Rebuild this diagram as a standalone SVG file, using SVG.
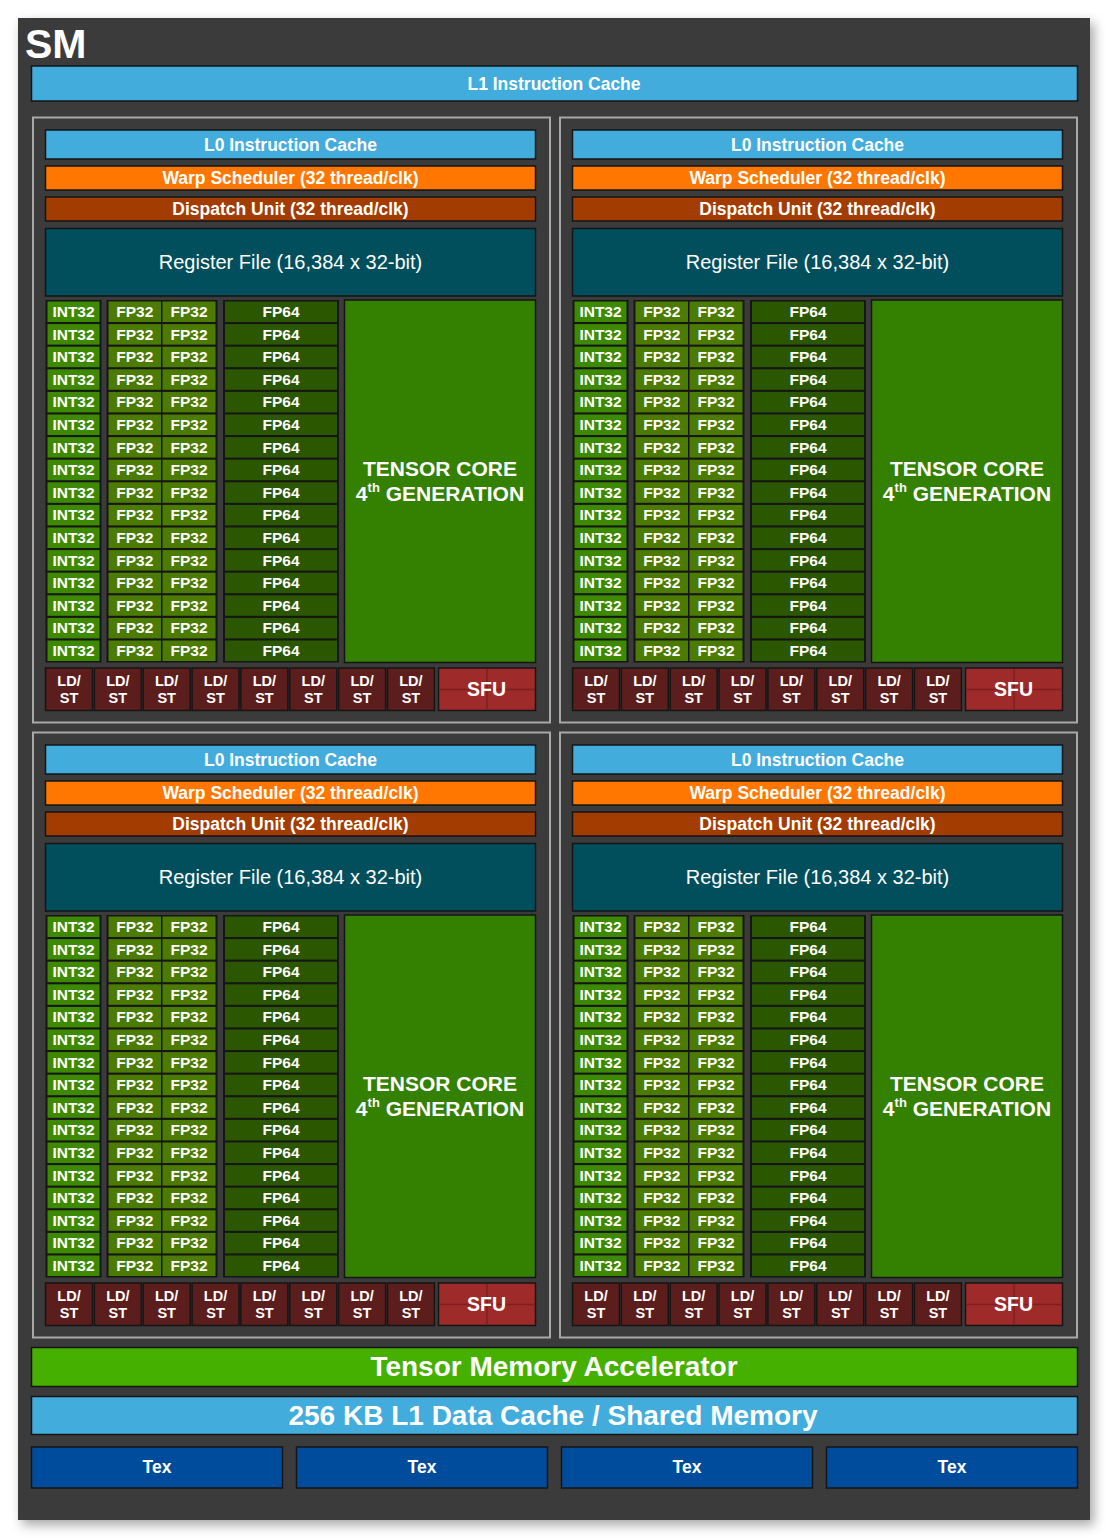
<svg xmlns="http://www.w3.org/2000/svg" width="1110" height="1538" viewBox="0 0 1110 1538">
<defs>
<filter id="sh" x="-5%" y="-5%" width="112%" height="112%"><feDropShadow dx="4" dy="5" stdDeviation="6" flood-color="#000" flood-opacity="0.35"/></filter>
<style>
.sm{fill:#3a3a3a}
.b{stroke:#151515;stroke-width:1.5}
.cy{fill:#42acdc}
.or{fill:#ff7700}
.du{fill:#a33c00}
.rf{fill:#014e5d}
.fr{fill:#161616}
.ci{fill:#3d8a00}
.cf{fill:#4b7b00}
.cd{fill:#2a5700}
.tc{fill:#348000}
.ls{fill:#5c1d1d}
.sfu{fill:#9f2a2a}
.sl{stroke:#7c1f1f;stroke-width:1.5;fill:none}
.tma{fill:#45b000}
.tex{fill:#004c9c}
.qf{fill:none;stroke:#a8a8a8;stroke-width:2}
text{font-family:"Liberation Sans",Arial,sans-serif;fill:#fff;text-anchor:middle}
.m{font-size:17.5px;font-weight:bold}
.r{font-size:20px}
.t{font-size:15.5px;font-weight:bold}
.l{font-size:14.5px;font-weight:bold}
.s{font-size:19.5px;font-weight:bold}
.tn{font-size:21px;font-weight:bold}
.sup{font-size:13px}
.big{font-size:28px;font-weight:bold}
.tt{font-size:41px;font-weight:bold;text-anchor:start}
</style>
</defs>
<rect width="1110" height="1538" fill="#ffffff"/>
<g id="sm">
<rect class="sm" x="18" y="18" width="1072" height="1502" filter="url(#sh)"/>
<text class="tt" x="25" y="57.5">SM</text>
</g>
<g id="l1i"><rect class="b cy" x="31.5" y="66" width="1046" height="35"/><text class="m" x="554" y="89.5">L1 Instruction Cache</text></g>
<g id="connectors"/>

<g id="q1" transform="translate(0,0)">
<rect class="qf" x="33" y="117.5" width="517" height="605"/>
<g id="q1-l0"><rect class="b cy" x="45.5" y="130" width="490" height="29"/><text class="m" x="290.5" y="150.5">L0 Instruction Cache</text></g>
<g id="q1-warp"><rect class="b or" x="45.5" y="166" width="490" height="24"/><text class="m" x="290.5" y="184.3">Warp Scheduler (32 thread/clk)</text></g>
<g id="q1-disp"><rect class="b du" x="45.5" y="197" width="490" height="24"/><text class="m" x="290.5" y="215.3">Dispatch Unit (32 thread/clk)</text></g>
<g id="q1-reg"><rect class="b rf" x="45.5" y="228.5" width="490" height="67.5"/><text class="r" x="290.5" y="268.5">Register File (16,384 x 32-bit)</text></g>
<rect class="fr" x="45.5" y="300" width="56" height="362.5"/>
<rect class="fr" x="106.5" y="300" width="111" height="362.5"/>
<rect class="fr" x="223" y="300" width="116" height="362.5"/>
<g id="q1-r1" transform="translate(0,301.5)"><g id="q1-r1-i"><rect class="ci" x="47.5" width="52" height="20.5"/><text class="t" x="73.5" y="15.5">INT32</text></g><g id="q1-r1-a"><rect class="cf" x="108.5" width="52.5" height="20.5"/><text class="t" x="134.75" y="15.5">FP32</text></g><g id="q1-r1-b"><rect class="cf" x="162.5" width="53" height="20.5"/><text class="t" x="189" y="15.5">FP32</text></g><g id="q1-r1-d"><rect class="cd" x="225" width="112" height="20.5"/><text class="t" x="281" y="15.5">FP64</text></g></g>
<g id="q1-r2" transform="translate(0,324.1)"><g id="q1-r2-i"><rect class="ci" x="47.5" width="52" height="20.5"/><text class="t" x="73.5" y="15.5">INT32</text></g><g id="q1-r2-a"><rect class="cf" x="108.5" width="52.5" height="20.5"/><text class="t" x="134.75" y="15.5">FP32</text></g><g id="q1-r2-b"><rect class="cf" x="162.5" width="53" height="20.5"/><text class="t" x="189" y="15.5">FP32</text></g><g id="q1-r2-d"><rect class="cd" x="225" width="112" height="20.5"/><text class="t" x="281" y="15.5">FP64</text></g></g>
<g id="q1-r3" transform="translate(0,346.7)"><g id="q1-r3-i"><rect class="ci" x="47.5" width="52" height="20.5"/><text class="t" x="73.5" y="15.5">INT32</text></g><g id="q1-r3-a"><rect class="cf" x="108.5" width="52.5" height="20.5"/><text class="t" x="134.75" y="15.5">FP32</text></g><g id="q1-r3-b"><rect class="cf" x="162.5" width="53" height="20.5"/><text class="t" x="189" y="15.5">FP32</text></g><g id="q1-r3-d"><rect class="cd" x="225" width="112" height="20.5"/><text class="t" x="281" y="15.5">FP64</text></g></g>
<g id="q1-r4" transform="translate(0,369.3)"><g id="q1-r4-i"><rect class="ci" x="47.5" width="52" height="20.5"/><text class="t" x="73.5" y="15.5">INT32</text></g><g id="q1-r4-a"><rect class="cf" x="108.5" width="52.5" height="20.5"/><text class="t" x="134.75" y="15.5">FP32</text></g><g id="q1-r4-b"><rect class="cf" x="162.5" width="53" height="20.5"/><text class="t" x="189" y="15.5">FP32</text></g><g id="q1-r4-d"><rect class="cd" x="225" width="112" height="20.5"/><text class="t" x="281" y="15.5">FP64</text></g></g>
<g id="q1-r5" transform="translate(0,391.9)"><g id="q1-r5-i"><rect class="ci" x="47.5" width="52" height="20.5"/><text class="t" x="73.5" y="15.5">INT32</text></g><g id="q1-r5-a"><rect class="cf" x="108.5" width="52.5" height="20.5"/><text class="t" x="134.75" y="15.5">FP32</text></g><g id="q1-r5-b"><rect class="cf" x="162.5" width="53" height="20.5"/><text class="t" x="189" y="15.5">FP32</text></g><g id="q1-r5-d"><rect class="cd" x="225" width="112" height="20.5"/><text class="t" x="281" y="15.5">FP64</text></g></g>
<g id="q1-r6" transform="translate(0,414.5)"><g id="q1-r6-i"><rect class="ci" x="47.5" width="52" height="20.5"/><text class="t" x="73.5" y="15.5">INT32</text></g><g id="q1-r6-a"><rect class="cf" x="108.5" width="52.5" height="20.5"/><text class="t" x="134.75" y="15.5">FP32</text></g><g id="q1-r6-b"><rect class="cf" x="162.5" width="53" height="20.5"/><text class="t" x="189" y="15.5">FP32</text></g><g id="q1-r6-d"><rect class="cd" x="225" width="112" height="20.5"/><text class="t" x="281" y="15.5">FP64</text></g></g>
<g id="q1-r7" transform="translate(0,437.1)"><g id="q1-r7-i"><rect class="ci" x="47.5" width="52" height="20.5"/><text class="t" x="73.5" y="15.5">INT32</text></g><g id="q1-r7-a"><rect class="cf" x="108.5" width="52.5" height="20.5"/><text class="t" x="134.75" y="15.5">FP32</text></g><g id="q1-r7-b"><rect class="cf" x="162.5" width="53" height="20.5"/><text class="t" x="189" y="15.5">FP32</text></g><g id="q1-r7-d"><rect class="cd" x="225" width="112" height="20.5"/><text class="t" x="281" y="15.5">FP64</text></g></g>
<g id="q1-r8" transform="translate(0,459.7)"><g id="q1-r8-i"><rect class="ci" x="47.5" width="52" height="20.5"/><text class="t" x="73.5" y="15.5">INT32</text></g><g id="q1-r8-a"><rect class="cf" x="108.5" width="52.5" height="20.5"/><text class="t" x="134.75" y="15.5">FP32</text></g><g id="q1-r8-b"><rect class="cf" x="162.5" width="53" height="20.5"/><text class="t" x="189" y="15.5">FP32</text></g><g id="q1-r8-d"><rect class="cd" x="225" width="112" height="20.5"/><text class="t" x="281" y="15.5">FP64</text></g></g>
<g id="q1-r9" transform="translate(0,482.3)"><g id="q1-r9-i"><rect class="ci" x="47.5" width="52" height="20.5"/><text class="t" x="73.5" y="15.5">INT32</text></g><g id="q1-r9-a"><rect class="cf" x="108.5" width="52.5" height="20.5"/><text class="t" x="134.75" y="15.5">FP32</text></g><g id="q1-r9-b"><rect class="cf" x="162.5" width="53" height="20.5"/><text class="t" x="189" y="15.5">FP32</text></g><g id="q1-r9-d"><rect class="cd" x="225" width="112" height="20.5"/><text class="t" x="281" y="15.5">FP64</text></g></g>
<g id="q1-r10" transform="translate(0,504.9)"><g id="q1-r10-i"><rect class="ci" x="47.5" width="52" height="20.5"/><text class="t" x="73.5" y="15.5">INT32</text></g><g id="q1-r10-a"><rect class="cf" x="108.5" width="52.5" height="20.5"/><text class="t" x="134.75" y="15.5">FP32</text></g><g id="q1-r10-b"><rect class="cf" x="162.5" width="53" height="20.5"/><text class="t" x="189" y="15.5">FP32</text></g><g id="q1-r10-d"><rect class="cd" x="225" width="112" height="20.5"/><text class="t" x="281" y="15.5">FP64</text></g></g>
<g id="q1-r11" transform="translate(0,527.5)"><g id="q1-r11-i"><rect class="ci" x="47.5" width="52" height="20.5"/><text class="t" x="73.5" y="15.5">INT32</text></g><g id="q1-r11-a"><rect class="cf" x="108.5" width="52.5" height="20.5"/><text class="t" x="134.75" y="15.5">FP32</text></g><g id="q1-r11-b"><rect class="cf" x="162.5" width="53" height="20.5"/><text class="t" x="189" y="15.5">FP32</text></g><g id="q1-r11-d"><rect class="cd" x="225" width="112" height="20.5"/><text class="t" x="281" y="15.5">FP64</text></g></g>
<g id="q1-r12" transform="translate(0,550.1)"><g id="q1-r12-i"><rect class="ci" x="47.5" width="52" height="20.5"/><text class="t" x="73.5" y="15.5">INT32</text></g><g id="q1-r12-a"><rect class="cf" x="108.5" width="52.5" height="20.5"/><text class="t" x="134.75" y="15.5">FP32</text></g><g id="q1-r12-b"><rect class="cf" x="162.5" width="53" height="20.5"/><text class="t" x="189" y="15.5">FP32</text></g><g id="q1-r12-d"><rect class="cd" x="225" width="112" height="20.5"/><text class="t" x="281" y="15.5">FP64</text></g></g>
<g id="q1-r13" transform="translate(0,572.7)"><g id="q1-r13-i"><rect class="ci" x="47.5" width="52" height="20.5"/><text class="t" x="73.5" y="15.5">INT32</text></g><g id="q1-r13-a"><rect class="cf" x="108.5" width="52.5" height="20.5"/><text class="t" x="134.75" y="15.5">FP32</text></g><g id="q1-r13-b"><rect class="cf" x="162.5" width="53" height="20.5"/><text class="t" x="189" y="15.5">FP32</text></g><g id="q1-r13-d"><rect class="cd" x="225" width="112" height="20.5"/><text class="t" x="281" y="15.5">FP64</text></g></g>
<g id="q1-r14" transform="translate(0,595.3)"><g id="q1-r14-i"><rect class="ci" x="47.5" width="52" height="20.5"/><text class="t" x="73.5" y="15.5">INT32</text></g><g id="q1-r14-a"><rect class="cf" x="108.5" width="52.5" height="20.5"/><text class="t" x="134.75" y="15.5">FP32</text></g><g id="q1-r14-b"><rect class="cf" x="162.5" width="53" height="20.5"/><text class="t" x="189" y="15.5">FP32</text></g><g id="q1-r14-d"><rect class="cd" x="225" width="112" height="20.5"/><text class="t" x="281" y="15.5">FP64</text></g></g>
<g id="q1-r15" transform="translate(0,617.9)"><g id="q1-r15-i"><rect class="ci" x="47.5" width="52" height="20.5"/><text class="t" x="73.5" y="15.5">INT32</text></g><g id="q1-r15-a"><rect class="cf" x="108.5" width="52.5" height="20.5"/><text class="t" x="134.75" y="15.5">FP32</text></g><g id="q1-r15-b"><rect class="cf" x="162.5" width="53" height="20.5"/><text class="t" x="189" y="15.5">FP32</text></g><g id="q1-r15-d"><rect class="cd" x="225" width="112" height="20.5"/><text class="t" x="281" y="15.5">FP64</text></g></g>
<g id="q1-r16" transform="translate(0,640.5)"><g id="q1-r16-i"><rect class="ci" x="47.5" width="52" height="20.5"/><text class="t" x="73.5" y="15.5">INT32</text></g><g id="q1-r16-a"><rect class="cf" x="108.5" width="52.5" height="20.5"/><text class="t" x="134.75" y="15.5">FP32</text></g><g id="q1-r16-b"><rect class="cf" x="162.5" width="53" height="20.5"/><text class="t" x="189" y="15.5">FP32</text></g><g id="q1-r16-d"><rect class="cd" x="225" width="112" height="20.5"/><text class="t" x="281" y="15.5">FP64</text></g></g>
<g id="q1-tensor"><rect class="b tc" x="344.5" y="300" width="191" height="362.5"/><text class="tn" x="440" y="476">TENSOR CORE</text><text class="tn" x="440" y="501">4<tspan class="sup" dy="-9">th</tspan><tspan dy="9"> GENERATION</tspan></text></g>
<g id="q1-ls1"><rect class="b ls" x="45.5" y="668" width="47" height="42.5"/><text class="l" x="69" y="686">LD/</text><text class="l" x="69" y="703">ST</text></g>
<g id="q1-ls2"><rect class="b ls" x="94.35" y="668" width="47" height="42.5"/><text class="l" x="117.85" y="686">LD/</text><text class="l" x="117.85" y="703">ST</text></g>
<g id="q1-ls3"><rect class="b ls" x="143.2" y="668" width="47" height="42.5"/><text class="l" x="166.7" y="686">LD/</text><text class="l" x="166.7" y="703">ST</text></g>
<g id="q1-ls4"><rect class="b ls" x="192.05" y="668" width="47" height="42.5"/><text class="l" x="215.55" y="686">LD/</text><text class="l" x="215.55" y="703">ST</text></g>
<g id="q1-ls5"><rect class="b ls" x="240.9" y="668" width="47" height="42.5"/><text class="l" x="264.4" y="686">LD/</text><text class="l" x="264.4" y="703">ST</text></g>
<g id="q1-ls6"><rect class="b ls" x="289.75" y="668" width="47" height="42.5"/><text class="l" x="313.25" y="686">LD/</text><text class="l" x="313.25" y="703">ST</text></g>
<g id="q1-ls7"><rect class="b ls" x="338.6" y="668" width="47" height="42.5"/><text class="l" x="362.1" y="686">LD/</text><text class="l" x="362.1" y="703">ST</text></g>
<g id="q1-ls8"><rect class="b ls" x="387.45" y="668" width="47" height="42.5"/><text class="l" x="410.95" y="686">LD/</text><text class="l" x="410.95" y="703">ST</text></g>
<g id="q1-sfu"><rect class="b sfu" x="438.5" y="668" width="97" height="42.5"/><path class="sl" d="M487 669V710M439 689.5H535"/><text class="s" x="486.5" y="696">SFU</text></g>
</g>

<g id="q2" transform="translate(527,0)">
<rect class="qf" x="33" y="117.5" width="517" height="605"/>
<g id="q2-l0"><rect class="b cy" x="45.5" y="130" width="490" height="29"/><text class="m" x="290.5" y="150.5">L0 Instruction Cache</text></g>
<g id="q2-warp"><rect class="b or" x="45.5" y="166" width="490" height="24"/><text class="m" x="290.5" y="184.3">Warp Scheduler (32 thread/clk)</text></g>
<g id="q2-disp"><rect class="b du" x="45.5" y="197" width="490" height="24"/><text class="m" x="290.5" y="215.3">Dispatch Unit (32 thread/clk)</text></g>
<g id="q2-reg"><rect class="b rf" x="45.5" y="228.5" width="490" height="67.5"/><text class="r" x="290.5" y="268.5">Register File (16,384 x 32-bit)</text></g>
<rect class="fr" x="45.5" y="300" width="56" height="362.5"/>
<rect class="fr" x="106.5" y="300" width="111" height="362.5"/>
<rect class="fr" x="223" y="300" width="116" height="362.5"/>
<g id="q2-r1" transform="translate(0,301.5)"><g id="q2-r1-i"><rect class="ci" x="47.5" width="52" height="20.5"/><text class="t" x="73.5" y="15.5">INT32</text></g><g id="q2-r1-a"><rect class="cf" x="108.5" width="52.5" height="20.5"/><text class="t" x="134.75" y="15.5">FP32</text></g><g id="q2-r1-b"><rect class="cf" x="162.5" width="53" height="20.5"/><text class="t" x="189" y="15.5">FP32</text></g><g id="q2-r1-d"><rect class="cd" x="225" width="112" height="20.5"/><text class="t" x="281" y="15.5">FP64</text></g></g>
<g id="q2-r2" transform="translate(0,324.1)"><g id="q2-r2-i"><rect class="ci" x="47.5" width="52" height="20.5"/><text class="t" x="73.5" y="15.5">INT32</text></g><g id="q2-r2-a"><rect class="cf" x="108.5" width="52.5" height="20.5"/><text class="t" x="134.75" y="15.5">FP32</text></g><g id="q2-r2-b"><rect class="cf" x="162.5" width="53" height="20.5"/><text class="t" x="189" y="15.5">FP32</text></g><g id="q2-r2-d"><rect class="cd" x="225" width="112" height="20.5"/><text class="t" x="281" y="15.5">FP64</text></g></g>
<g id="q2-r3" transform="translate(0,346.7)"><g id="q2-r3-i"><rect class="ci" x="47.5" width="52" height="20.5"/><text class="t" x="73.5" y="15.5">INT32</text></g><g id="q2-r3-a"><rect class="cf" x="108.5" width="52.5" height="20.5"/><text class="t" x="134.75" y="15.5">FP32</text></g><g id="q2-r3-b"><rect class="cf" x="162.5" width="53" height="20.5"/><text class="t" x="189" y="15.5">FP32</text></g><g id="q2-r3-d"><rect class="cd" x="225" width="112" height="20.5"/><text class="t" x="281" y="15.5">FP64</text></g></g>
<g id="q2-r4" transform="translate(0,369.3)"><g id="q2-r4-i"><rect class="ci" x="47.5" width="52" height="20.5"/><text class="t" x="73.5" y="15.5">INT32</text></g><g id="q2-r4-a"><rect class="cf" x="108.5" width="52.5" height="20.5"/><text class="t" x="134.75" y="15.5">FP32</text></g><g id="q2-r4-b"><rect class="cf" x="162.5" width="53" height="20.5"/><text class="t" x="189" y="15.5">FP32</text></g><g id="q2-r4-d"><rect class="cd" x="225" width="112" height="20.5"/><text class="t" x="281" y="15.5">FP64</text></g></g>
<g id="q2-r5" transform="translate(0,391.9)"><g id="q2-r5-i"><rect class="ci" x="47.5" width="52" height="20.5"/><text class="t" x="73.5" y="15.5">INT32</text></g><g id="q2-r5-a"><rect class="cf" x="108.5" width="52.5" height="20.5"/><text class="t" x="134.75" y="15.5">FP32</text></g><g id="q2-r5-b"><rect class="cf" x="162.5" width="53" height="20.5"/><text class="t" x="189" y="15.5">FP32</text></g><g id="q2-r5-d"><rect class="cd" x="225" width="112" height="20.5"/><text class="t" x="281" y="15.5">FP64</text></g></g>
<g id="q2-r6" transform="translate(0,414.5)"><g id="q2-r6-i"><rect class="ci" x="47.5" width="52" height="20.5"/><text class="t" x="73.5" y="15.5">INT32</text></g><g id="q2-r6-a"><rect class="cf" x="108.5" width="52.5" height="20.5"/><text class="t" x="134.75" y="15.5">FP32</text></g><g id="q2-r6-b"><rect class="cf" x="162.5" width="53" height="20.5"/><text class="t" x="189" y="15.5">FP32</text></g><g id="q2-r6-d"><rect class="cd" x="225" width="112" height="20.5"/><text class="t" x="281" y="15.5">FP64</text></g></g>
<g id="q2-r7" transform="translate(0,437.1)"><g id="q2-r7-i"><rect class="ci" x="47.5" width="52" height="20.5"/><text class="t" x="73.5" y="15.5">INT32</text></g><g id="q2-r7-a"><rect class="cf" x="108.5" width="52.5" height="20.5"/><text class="t" x="134.75" y="15.5">FP32</text></g><g id="q2-r7-b"><rect class="cf" x="162.5" width="53" height="20.5"/><text class="t" x="189" y="15.5">FP32</text></g><g id="q2-r7-d"><rect class="cd" x="225" width="112" height="20.5"/><text class="t" x="281" y="15.5">FP64</text></g></g>
<g id="q2-r8" transform="translate(0,459.7)"><g id="q2-r8-i"><rect class="ci" x="47.5" width="52" height="20.5"/><text class="t" x="73.5" y="15.5">INT32</text></g><g id="q2-r8-a"><rect class="cf" x="108.5" width="52.5" height="20.5"/><text class="t" x="134.75" y="15.5">FP32</text></g><g id="q2-r8-b"><rect class="cf" x="162.5" width="53" height="20.5"/><text class="t" x="189" y="15.5">FP32</text></g><g id="q2-r8-d"><rect class="cd" x="225" width="112" height="20.5"/><text class="t" x="281" y="15.5">FP64</text></g></g>
<g id="q2-r9" transform="translate(0,482.3)"><g id="q2-r9-i"><rect class="ci" x="47.5" width="52" height="20.5"/><text class="t" x="73.5" y="15.5">INT32</text></g><g id="q2-r9-a"><rect class="cf" x="108.5" width="52.5" height="20.5"/><text class="t" x="134.75" y="15.5">FP32</text></g><g id="q2-r9-b"><rect class="cf" x="162.5" width="53" height="20.5"/><text class="t" x="189" y="15.5">FP32</text></g><g id="q2-r9-d"><rect class="cd" x="225" width="112" height="20.5"/><text class="t" x="281" y="15.5">FP64</text></g></g>
<g id="q2-r10" transform="translate(0,504.9)"><g id="q2-r10-i"><rect class="ci" x="47.5" width="52" height="20.5"/><text class="t" x="73.5" y="15.5">INT32</text></g><g id="q2-r10-a"><rect class="cf" x="108.5" width="52.5" height="20.5"/><text class="t" x="134.75" y="15.5">FP32</text></g><g id="q2-r10-b"><rect class="cf" x="162.5" width="53" height="20.5"/><text class="t" x="189" y="15.5">FP32</text></g><g id="q2-r10-d"><rect class="cd" x="225" width="112" height="20.5"/><text class="t" x="281" y="15.5">FP64</text></g></g>
<g id="q2-r11" transform="translate(0,527.5)"><g id="q2-r11-i"><rect class="ci" x="47.5" width="52" height="20.5"/><text class="t" x="73.5" y="15.5">INT32</text></g><g id="q2-r11-a"><rect class="cf" x="108.5" width="52.5" height="20.5"/><text class="t" x="134.75" y="15.5">FP32</text></g><g id="q2-r11-b"><rect class="cf" x="162.5" width="53" height="20.5"/><text class="t" x="189" y="15.5">FP32</text></g><g id="q2-r11-d"><rect class="cd" x="225" width="112" height="20.5"/><text class="t" x="281" y="15.5">FP64</text></g></g>
<g id="q2-r12" transform="translate(0,550.1)"><g id="q2-r12-i"><rect class="ci" x="47.5" width="52" height="20.5"/><text class="t" x="73.5" y="15.5">INT32</text></g><g id="q2-r12-a"><rect class="cf" x="108.5" width="52.5" height="20.5"/><text class="t" x="134.75" y="15.5">FP32</text></g><g id="q2-r12-b"><rect class="cf" x="162.5" width="53" height="20.5"/><text class="t" x="189" y="15.5">FP32</text></g><g id="q2-r12-d"><rect class="cd" x="225" width="112" height="20.5"/><text class="t" x="281" y="15.5">FP64</text></g></g>
<g id="q2-r13" transform="translate(0,572.7)"><g id="q2-r13-i"><rect class="ci" x="47.5" width="52" height="20.5"/><text class="t" x="73.5" y="15.5">INT32</text></g><g id="q2-r13-a"><rect class="cf" x="108.5" width="52.5" height="20.5"/><text class="t" x="134.75" y="15.5">FP32</text></g><g id="q2-r13-b"><rect class="cf" x="162.5" width="53" height="20.5"/><text class="t" x="189" y="15.5">FP32</text></g><g id="q2-r13-d"><rect class="cd" x="225" width="112" height="20.5"/><text class="t" x="281" y="15.5">FP64</text></g></g>
<g id="q2-r14" transform="translate(0,595.3)"><g id="q2-r14-i"><rect class="ci" x="47.5" width="52" height="20.5"/><text class="t" x="73.5" y="15.5">INT32</text></g><g id="q2-r14-a"><rect class="cf" x="108.5" width="52.5" height="20.5"/><text class="t" x="134.75" y="15.5">FP32</text></g><g id="q2-r14-b"><rect class="cf" x="162.5" width="53" height="20.5"/><text class="t" x="189" y="15.5">FP32</text></g><g id="q2-r14-d"><rect class="cd" x="225" width="112" height="20.5"/><text class="t" x="281" y="15.5">FP64</text></g></g>
<g id="q2-r15" transform="translate(0,617.9)"><g id="q2-r15-i"><rect class="ci" x="47.5" width="52" height="20.5"/><text class="t" x="73.5" y="15.5">INT32</text></g><g id="q2-r15-a"><rect class="cf" x="108.5" width="52.5" height="20.5"/><text class="t" x="134.75" y="15.5">FP32</text></g><g id="q2-r15-b"><rect class="cf" x="162.5" width="53" height="20.5"/><text class="t" x="189" y="15.5">FP32</text></g><g id="q2-r15-d"><rect class="cd" x="225" width="112" height="20.5"/><text class="t" x="281" y="15.5">FP64</text></g></g>
<g id="q2-r16" transform="translate(0,640.5)"><g id="q2-r16-i"><rect class="ci" x="47.5" width="52" height="20.5"/><text class="t" x="73.5" y="15.5">INT32</text></g><g id="q2-r16-a"><rect class="cf" x="108.5" width="52.5" height="20.5"/><text class="t" x="134.75" y="15.5">FP32</text></g><g id="q2-r16-b"><rect class="cf" x="162.5" width="53" height="20.5"/><text class="t" x="189" y="15.5">FP32</text></g><g id="q2-r16-d"><rect class="cd" x="225" width="112" height="20.5"/><text class="t" x="281" y="15.5">FP64</text></g></g>
<g id="q2-tensor"><rect class="b tc" x="344.5" y="300" width="191" height="362.5"/><text class="tn" x="440" y="476">TENSOR CORE</text><text class="tn" x="440" y="501">4<tspan class="sup" dy="-9">th</tspan><tspan dy="9"> GENERATION</tspan></text></g>
<g id="q2-ls1"><rect class="b ls" x="45.5" y="668" width="47" height="42.5"/><text class="l" x="69" y="686">LD/</text><text class="l" x="69" y="703">ST</text></g>
<g id="q2-ls2"><rect class="b ls" x="94.35" y="668" width="47" height="42.5"/><text class="l" x="117.85" y="686">LD/</text><text class="l" x="117.85" y="703">ST</text></g>
<g id="q2-ls3"><rect class="b ls" x="143.2" y="668" width="47" height="42.5"/><text class="l" x="166.7" y="686">LD/</text><text class="l" x="166.7" y="703">ST</text></g>
<g id="q2-ls4"><rect class="b ls" x="192.05" y="668" width="47" height="42.5"/><text class="l" x="215.55" y="686">LD/</text><text class="l" x="215.55" y="703">ST</text></g>
<g id="q2-ls5"><rect class="b ls" x="240.9" y="668" width="47" height="42.5"/><text class="l" x="264.4" y="686">LD/</text><text class="l" x="264.4" y="703">ST</text></g>
<g id="q2-ls6"><rect class="b ls" x="289.75" y="668" width="47" height="42.5"/><text class="l" x="313.25" y="686">LD/</text><text class="l" x="313.25" y="703">ST</text></g>
<g id="q2-ls7"><rect class="b ls" x="338.6" y="668" width="47" height="42.5"/><text class="l" x="362.1" y="686">LD/</text><text class="l" x="362.1" y="703">ST</text></g>
<g id="q2-ls8"><rect class="b ls" x="387.45" y="668" width="47" height="42.5"/><text class="l" x="410.95" y="686">LD/</text><text class="l" x="410.95" y="703">ST</text></g>
<g id="q2-sfu"><rect class="b sfu" x="438.5" y="668" width="97" height="42.5"/><path class="sl" d="M487 669V710M439 689.5H535"/><text class="s" x="486.5" y="696">SFU</text></g>
</g>

<g id="q3" transform="translate(0,615)">
<rect class="qf" x="33" y="117.5" width="517" height="605"/>
<g id="q3-l0"><rect class="b cy" x="45.5" y="130" width="490" height="29"/><text class="m" x="290.5" y="150.5">L0 Instruction Cache</text></g>
<g id="q3-warp"><rect class="b or" x="45.5" y="166" width="490" height="24"/><text class="m" x="290.5" y="184.3">Warp Scheduler (32 thread/clk)</text></g>
<g id="q3-disp"><rect class="b du" x="45.5" y="197" width="490" height="24"/><text class="m" x="290.5" y="215.3">Dispatch Unit (32 thread/clk)</text></g>
<g id="q3-reg"><rect class="b rf" x="45.5" y="228.5" width="490" height="67.5"/><text class="r" x="290.5" y="268.5">Register File (16,384 x 32-bit)</text></g>
<rect class="fr" x="45.5" y="300" width="56" height="362.5"/>
<rect class="fr" x="106.5" y="300" width="111" height="362.5"/>
<rect class="fr" x="223" y="300" width="116" height="362.5"/>
<g id="q3-r1" transform="translate(0,301.5)"><g id="q3-r1-i"><rect class="ci" x="47.5" width="52" height="20.5"/><text class="t" x="73.5" y="15.5">INT32</text></g><g id="q3-r1-a"><rect class="cf" x="108.5" width="52.5" height="20.5"/><text class="t" x="134.75" y="15.5">FP32</text></g><g id="q3-r1-b"><rect class="cf" x="162.5" width="53" height="20.5"/><text class="t" x="189" y="15.5">FP32</text></g><g id="q3-r1-d"><rect class="cd" x="225" width="112" height="20.5"/><text class="t" x="281" y="15.5">FP64</text></g></g>
<g id="q3-r2" transform="translate(0,324.1)"><g id="q3-r2-i"><rect class="ci" x="47.5" width="52" height="20.5"/><text class="t" x="73.5" y="15.5">INT32</text></g><g id="q3-r2-a"><rect class="cf" x="108.5" width="52.5" height="20.5"/><text class="t" x="134.75" y="15.5">FP32</text></g><g id="q3-r2-b"><rect class="cf" x="162.5" width="53" height="20.5"/><text class="t" x="189" y="15.5">FP32</text></g><g id="q3-r2-d"><rect class="cd" x="225" width="112" height="20.5"/><text class="t" x="281" y="15.5">FP64</text></g></g>
<g id="q3-r3" transform="translate(0,346.7)"><g id="q3-r3-i"><rect class="ci" x="47.5" width="52" height="20.5"/><text class="t" x="73.5" y="15.5">INT32</text></g><g id="q3-r3-a"><rect class="cf" x="108.5" width="52.5" height="20.5"/><text class="t" x="134.75" y="15.5">FP32</text></g><g id="q3-r3-b"><rect class="cf" x="162.5" width="53" height="20.5"/><text class="t" x="189" y="15.5">FP32</text></g><g id="q3-r3-d"><rect class="cd" x="225" width="112" height="20.5"/><text class="t" x="281" y="15.5">FP64</text></g></g>
<g id="q3-r4" transform="translate(0,369.3)"><g id="q3-r4-i"><rect class="ci" x="47.5" width="52" height="20.5"/><text class="t" x="73.5" y="15.5">INT32</text></g><g id="q3-r4-a"><rect class="cf" x="108.5" width="52.5" height="20.5"/><text class="t" x="134.75" y="15.5">FP32</text></g><g id="q3-r4-b"><rect class="cf" x="162.5" width="53" height="20.5"/><text class="t" x="189" y="15.5">FP32</text></g><g id="q3-r4-d"><rect class="cd" x="225" width="112" height="20.5"/><text class="t" x="281" y="15.5">FP64</text></g></g>
<g id="q3-r5" transform="translate(0,391.9)"><g id="q3-r5-i"><rect class="ci" x="47.5" width="52" height="20.5"/><text class="t" x="73.5" y="15.5">INT32</text></g><g id="q3-r5-a"><rect class="cf" x="108.5" width="52.5" height="20.5"/><text class="t" x="134.75" y="15.5">FP32</text></g><g id="q3-r5-b"><rect class="cf" x="162.5" width="53" height="20.5"/><text class="t" x="189" y="15.5">FP32</text></g><g id="q3-r5-d"><rect class="cd" x="225" width="112" height="20.5"/><text class="t" x="281" y="15.5">FP64</text></g></g>
<g id="q3-r6" transform="translate(0,414.5)"><g id="q3-r6-i"><rect class="ci" x="47.5" width="52" height="20.5"/><text class="t" x="73.5" y="15.5">INT32</text></g><g id="q3-r6-a"><rect class="cf" x="108.5" width="52.5" height="20.5"/><text class="t" x="134.75" y="15.5">FP32</text></g><g id="q3-r6-b"><rect class="cf" x="162.5" width="53" height="20.5"/><text class="t" x="189" y="15.5">FP32</text></g><g id="q3-r6-d"><rect class="cd" x="225" width="112" height="20.5"/><text class="t" x="281" y="15.5">FP64</text></g></g>
<g id="q3-r7" transform="translate(0,437.1)"><g id="q3-r7-i"><rect class="ci" x="47.5" width="52" height="20.5"/><text class="t" x="73.5" y="15.5">INT32</text></g><g id="q3-r7-a"><rect class="cf" x="108.5" width="52.5" height="20.5"/><text class="t" x="134.75" y="15.5">FP32</text></g><g id="q3-r7-b"><rect class="cf" x="162.5" width="53" height="20.5"/><text class="t" x="189" y="15.5">FP32</text></g><g id="q3-r7-d"><rect class="cd" x="225" width="112" height="20.5"/><text class="t" x="281" y="15.5">FP64</text></g></g>
<g id="q3-r8" transform="translate(0,459.7)"><g id="q3-r8-i"><rect class="ci" x="47.5" width="52" height="20.5"/><text class="t" x="73.5" y="15.5">INT32</text></g><g id="q3-r8-a"><rect class="cf" x="108.5" width="52.5" height="20.5"/><text class="t" x="134.75" y="15.5">FP32</text></g><g id="q3-r8-b"><rect class="cf" x="162.5" width="53" height="20.5"/><text class="t" x="189" y="15.5">FP32</text></g><g id="q3-r8-d"><rect class="cd" x="225" width="112" height="20.5"/><text class="t" x="281" y="15.5">FP64</text></g></g>
<g id="q3-r9" transform="translate(0,482.3)"><g id="q3-r9-i"><rect class="ci" x="47.5" width="52" height="20.5"/><text class="t" x="73.5" y="15.5">INT32</text></g><g id="q3-r9-a"><rect class="cf" x="108.5" width="52.5" height="20.5"/><text class="t" x="134.75" y="15.5">FP32</text></g><g id="q3-r9-b"><rect class="cf" x="162.5" width="53" height="20.5"/><text class="t" x="189" y="15.5">FP32</text></g><g id="q3-r9-d"><rect class="cd" x="225" width="112" height="20.5"/><text class="t" x="281" y="15.5">FP64</text></g></g>
<g id="q3-r10" transform="translate(0,504.9)"><g id="q3-r10-i"><rect class="ci" x="47.5" width="52" height="20.5"/><text class="t" x="73.5" y="15.5">INT32</text></g><g id="q3-r10-a"><rect class="cf" x="108.5" width="52.5" height="20.5"/><text class="t" x="134.75" y="15.5">FP32</text></g><g id="q3-r10-b"><rect class="cf" x="162.5" width="53" height="20.5"/><text class="t" x="189" y="15.5">FP32</text></g><g id="q3-r10-d"><rect class="cd" x="225" width="112" height="20.5"/><text class="t" x="281" y="15.5">FP64</text></g></g>
<g id="q3-r11" transform="translate(0,527.5)"><g id="q3-r11-i"><rect class="ci" x="47.5" width="52" height="20.5"/><text class="t" x="73.5" y="15.5">INT32</text></g><g id="q3-r11-a"><rect class="cf" x="108.5" width="52.5" height="20.5"/><text class="t" x="134.75" y="15.5">FP32</text></g><g id="q3-r11-b"><rect class="cf" x="162.5" width="53" height="20.5"/><text class="t" x="189" y="15.5">FP32</text></g><g id="q3-r11-d"><rect class="cd" x="225" width="112" height="20.5"/><text class="t" x="281" y="15.5">FP64</text></g></g>
<g id="q3-r12" transform="translate(0,550.1)"><g id="q3-r12-i"><rect class="ci" x="47.5" width="52" height="20.5"/><text class="t" x="73.5" y="15.5">INT32</text></g><g id="q3-r12-a"><rect class="cf" x="108.5" width="52.5" height="20.5"/><text class="t" x="134.75" y="15.5">FP32</text></g><g id="q3-r12-b"><rect class="cf" x="162.5" width="53" height="20.5"/><text class="t" x="189" y="15.5">FP32</text></g><g id="q3-r12-d"><rect class="cd" x="225" width="112" height="20.5"/><text class="t" x="281" y="15.5">FP64</text></g></g>
<g id="q3-r13" transform="translate(0,572.7)"><g id="q3-r13-i"><rect class="ci" x="47.5" width="52" height="20.5"/><text class="t" x="73.5" y="15.5">INT32</text></g><g id="q3-r13-a"><rect class="cf" x="108.5" width="52.5" height="20.5"/><text class="t" x="134.75" y="15.5">FP32</text></g><g id="q3-r13-b"><rect class="cf" x="162.5" width="53" height="20.5"/><text class="t" x="189" y="15.5">FP32</text></g><g id="q3-r13-d"><rect class="cd" x="225" width="112" height="20.5"/><text class="t" x="281" y="15.5">FP64</text></g></g>
<g id="q3-r14" transform="translate(0,595.3)"><g id="q3-r14-i"><rect class="ci" x="47.5" width="52" height="20.5"/><text class="t" x="73.5" y="15.5">INT32</text></g><g id="q3-r14-a"><rect class="cf" x="108.5" width="52.5" height="20.5"/><text class="t" x="134.75" y="15.5">FP32</text></g><g id="q3-r14-b"><rect class="cf" x="162.5" width="53" height="20.5"/><text class="t" x="189" y="15.5">FP32</text></g><g id="q3-r14-d"><rect class="cd" x="225" width="112" height="20.5"/><text class="t" x="281" y="15.5">FP64</text></g></g>
<g id="q3-r15" transform="translate(0,617.9)"><g id="q3-r15-i"><rect class="ci" x="47.5" width="52" height="20.5"/><text class="t" x="73.5" y="15.5">INT32</text></g><g id="q3-r15-a"><rect class="cf" x="108.5" width="52.5" height="20.5"/><text class="t" x="134.75" y="15.5">FP32</text></g><g id="q3-r15-b"><rect class="cf" x="162.5" width="53" height="20.5"/><text class="t" x="189" y="15.5">FP32</text></g><g id="q3-r15-d"><rect class="cd" x="225" width="112" height="20.5"/><text class="t" x="281" y="15.5">FP64</text></g></g>
<g id="q3-r16" transform="translate(0,640.5)"><g id="q3-r16-i"><rect class="ci" x="47.5" width="52" height="20.5"/><text class="t" x="73.5" y="15.5">INT32</text></g><g id="q3-r16-a"><rect class="cf" x="108.5" width="52.5" height="20.5"/><text class="t" x="134.75" y="15.5">FP32</text></g><g id="q3-r16-b"><rect class="cf" x="162.5" width="53" height="20.5"/><text class="t" x="189" y="15.5">FP32</text></g><g id="q3-r16-d"><rect class="cd" x="225" width="112" height="20.5"/><text class="t" x="281" y="15.5">FP64</text></g></g>
<g id="q3-tensor"><rect class="b tc" x="344.5" y="300" width="191" height="362.5"/><text class="tn" x="440" y="476">TENSOR CORE</text><text class="tn" x="440" y="501">4<tspan class="sup" dy="-9">th</tspan><tspan dy="9"> GENERATION</tspan></text></g>
<g id="q3-ls1"><rect class="b ls" x="45.5" y="668" width="47" height="42.5"/><text class="l" x="69" y="686">LD/</text><text class="l" x="69" y="703">ST</text></g>
<g id="q3-ls2"><rect class="b ls" x="94.35" y="668" width="47" height="42.5"/><text class="l" x="117.85" y="686">LD/</text><text class="l" x="117.85" y="703">ST</text></g>
<g id="q3-ls3"><rect class="b ls" x="143.2" y="668" width="47" height="42.5"/><text class="l" x="166.7" y="686">LD/</text><text class="l" x="166.7" y="703">ST</text></g>
<g id="q3-ls4"><rect class="b ls" x="192.05" y="668" width="47" height="42.5"/><text class="l" x="215.55" y="686">LD/</text><text class="l" x="215.55" y="703">ST</text></g>
<g id="q3-ls5"><rect class="b ls" x="240.9" y="668" width="47" height="42.5"/><text class="l" x="264.4" y="686">LD/</text><text class="l" x="264.4" y="703">ST</text></g>
<g id="q3-ls6"><rect class="b ls" x="289.75" y="668" width="47" height="42.5"/><text class="l" x="313.25" y="686">LD/</text><text class="l" x="313.25" y="703">ST</text></g>
<g id="q3-ls7"><rect class="b ls" x="338.6" y="668" width="47" height="42.5"/><text class="l" x="362.1" y="686">LD/</text><text class="l" x="362.1" y="703">ST</text></g>
<g id="q3-ls8"><rect class="b ls" x="387.45" y="668" width="47" height="42.5"/><text class="l" x="410.95" y="686">LD/</text><text class="l" x="410.95" y="703">ST</text></g>
<g id="q3-sfu"><rect class="b sfu" x="438.5" y="668" width="97" height="42.5"/><path class="sl" d="M487 669V710M439 689.5H535"/><text class="s" x="486.5" y="696">SFU</text></g>
</g>

<g id="q4" transform="translate(527,615)">
<rect class="qf" x="33" y="117.5" width="517" height="605"/>
<g id="q4-l0"><rect class="b cy" x="45.5" y="130" width="490" height="29"/><text class="m" x="290.5" y="150.5">L0 Instruction Cache</text></g>
<g id="q4-warp"><rect class="b or" x="45.5" y="166" width="490" height="24"/><text class="m" x="290.5" y="184.3">Warp Scheduler (32 thread/clk)</text></g>
<g id="q4-disp"><rect class="b du" x="45.5" y="197" width="490" height="24"/><text class="m" x="290.5" y="215.3">Dispatch Unit (32 thread/clk)</text></g>
<g id="q4-reg"><rect class="b rf" x="45.5" y="228.5" width="490" height="67.5"/><text class="r" x="290.5" y="268.5">Register File (16,384 x 32-bit)</text></g>
<rect class="fr" x="45.5" y="300" width="56" height="362.5"/>
<rect class="fr" x="106.5" y="300" width="111" height="362.5"/>
<rect class="fr" x="223" y="300" width="116" height="362.5"/>
<g id="q4-r1" transform="translate(0,301.5)"><g id="q4-r1-i"><rect class="ci" x="47.5" width="52" height="20.5"/><text class="t" x="73.5" y="15.5">INT32</text></g><g id="q4-r1-a"><rect class="cf" x="108.5" width="52.5" height="20.5"/><text class="t" x="134.75" y="15.5">FP32</text></g><g id="q4-r1-b"><rect class="cf" x="162.5" width="53" height="20.5"/><text class="t" x="189" y="15.5">FP32</text></g><g id="q4-r1-d"><rect class="cd" x="225" width="112" height="20.5"/><text class="t" x="281" y="15.5">FP64</text></g></g>
<g id="q4-r2" transform="translate(0,324.1)"><g id="q4-r2-i"><rect class="ci" x="47.5" width="52" height="20.5"/><text class="t" x="73.5" y="15.5">INT32</text></g><g id="q4-r2-a"><rect class="cf" x="108.5" width="52.5" height="20.5"/><text class="t" x="134.75" y="15.5">FP32</text></g><g id="q4-r2-b"><rect class="cf" x="162.5" width="53" height="20.5"/><text class="t" x="189" y="15.5">FP32</text></g><g id="q4-r2-d"><rect class="cd" x="225" width="112" height="20.5"/><text class="t" x="281" y="15.5">FP64</text></g></g>
<g id="q4-r3" transform="translate(0,346.7)"><g id="q4-r3-i"><rect class="ci" x="47.5" width="52" height="20.5"/><text class="t" x="73.5" y="15.5">INT32</text></g><g id="q4-r3-a"><rect class="cf" x="108.5" width="52.5" height="20.5"/><text class="t" x="134.75" y="15.5">FP32</text></g><g id="q4-r3-b"><rect class="cf" x="162.5" width="53" height="20.5"/><text class="t" x="189" y="15.5">FP32</text></g><g id="q4-r3-d"><rect class="cd" x="225" width="112" height="20.5"/><text class="t" x="281" y="15.5">FP64</text></g></g>
<g id="q4-r4" transform="translate(0,369.3)"><g id="q4-r4-i"><rect class="ci" x="47.5" width="52" height="20.5"/><text class="t" x="73.5" y="15.5">INT32</text></g><g id="q4-r4-a"><rect class="cf" x="108.5" width="52.5" height="20.5"/><text class="t" x="134.75" y="15.5">FP32</text></g><g id="q4-r4-b"><rect class="cf" x="162.5" width="53" height="20.5"/><text class="t" x="189" y="15.5">FP32</text></g><g id="q4-r4-d"><rect class="cd" x="225" width="112" height="20.5"/><text class="t" x="281" y="15.5">FP64</text></g></g>
<g id="q4-r5" transform="translate(0,391.9)"><g id="q4-r5-i"><rect class="ci" x="47.5" width="52" height="20.5"/><text class="t" x="73.5" y="15.5">INT32</text></g><g id="q4-r5-a"><rect class="cf" x="108.5" width="52.5" height="20.5"/><text class="t" x="134.75" y="15.5">FP32</text></g><g id="q4-r5-b"><rect class="cf" x="162.5" width="53" height="20.5"/><text class="t" x="189" y="15.5">FP32</text></g><g id="q4-r5-d"><rect class="cd" x="225" width="112" height="20.5"/><text class="t" x="281" y="15.5">FP64</text></g></g>
<g id="q4-r6" transform="translate(0,414.5)"><g id="q4-r6-i"><rect class="ci" x="47.5" width="52" height="20.5"/><text class="t" x="73.5" y="15.5">INT32</text></g><g id="q4-r6-a"><rect class="cf" x="108.5" width="52.5" height="20.5"/><text class="t" x="134.75" y="15.5">FP32</text></g><g id="q4-r6-b"><rect class="cf" x="162.5" width="53" height="20.5"/><text class="t" x="189" y="15.5">FP32</text></g><g id="q4-r6-d"><rect class="cd" x="225" width="112" height="20.5"/><text class="t" x="281" y="15.5">FP64</text></g></g>
<g id="q4-r7" transform="translate(0,437.1)"><g id="q4-r7-i"><rect class="ci" x="47.5" width="52" height="20.5"/><text class="t" x="73.5" y="15.5">INT32</text></g><g id="q4-r7-a"><rect class="cf" x="108.5" width="52.5" height="20.5"/><text class="t" x="134.75" y="15.5">FP32</text></g><g id="q4-r7-b"><rect class="cf" x="162.5" width="53" height="20.5"/><text class="t" x="189" y="15.5">FP32</text></g><g id="q4-r7-d"><rect class="cd" x="225" width="112" height="20.5"/><text class="t" x="281" y="15.5">FP64</text></g></g>
<g id="q4-r8" transform="translate(0,459.7)"><g id="q4-r8-i"><rect class="ci" x="47.5" width="52" height="20.5"/><text class="t" x="73.5" y="15.5">INT32</text></g><g id="q4-r8-a"><rect class="cf" x="108.5" width="52.5" height="20.5"/><text class="t" x="134.75" y="15.5">FP32</text></g><g id="q4-r8-b"><rect class="cf" x="162.5" width="53" height="20.5"/><text class="t" x="189" y="15.5">FP32</text></g><g id="q4-r8-d"><rect class="cd" x="225" width="112" height="20.5"/><text class="t" x="281" y="15.5">FP64</text></g></g>
<g id="q4-r9" transform="translate(0,482.3)"><g id="q4-r9-i"><rect class="ci" x="47.5" width="52" height="20.5"/><text class="t" x="73.5" y="15.5">INT32</text></g><g id="q4-r9-a"><rect class="cf" x="108.5" width="52.5" height="20.5"/><text class="t" x="134.75" y="15.5">FP32</text></g><g id="q4-r9-b"><rect class="cf" x="162.5" width="53" height="20.5"/><text class="t" x="189" y="15.5">FP32</text></g><g id="q4-r9-d"><rect class="cd" x="225" width="112" height="20.5"/><text class="t" x="281" y="15.5">FP64</text></g></g>
<g id="q4-r10" transform="translate(0,504.9)"><g id="q4-r10-i"><rect class="ci" x="47.5" width="52" height="20.5"/><text class="t" x="73.5" y="15.5">INT32</text></g><g id="q4-r10-a"><rect class="cf" x="108.5" width="52.5" height="20.5"/><text class="t" x="134.75" y="15.5">FP32</text></g><g id="q4-r10-b"><rect class="cf" x="162.5" width="53" height="20.5"/><text class="t" x="189" y="15.5">FP32</text></g><g id="q4-r10-d"><rect class="cd" x="225" width="112" height="20.5"/><text class="t" x="281" y="15.5">FP64</text></g></g>
<g id="q4-r11" transform="translate(0,527.5)"><g id="q4-r11-i"><rect class="ci" x="47.5" width="52" height="20.5"/><text class="t" x="73.5" y="15.5">INT32</text></g><g id="q4-r11-a"><rect class="cf" x="108.5" width="52.5" height="20.5"/><text class="t" x="134.75" y="15.5">FP32</text></g><g id="q4-r11-b"><rect class="cf" x="162.5" width="53" height="20.5"/><text class="t" x="189" y="15.5">FP32</text></g><g id="q4-r11-d"><rect class="cd" x="225" width="112" height="20.5"/><text class="t" x="281" y="15.5">FP64</text></g></g>
<g id="q4-r12" transform="translate(0,550.1)"><g id="q4-r12-i"><rect class="ci" x="47.5" width="52" height="20.5"/><text class="t" x="73.5" y="15.5">INT32</text></g><g id="q4-r12-a"><rect class="cf" x="108.5" width="52.5" height="20.5"/><text class="t" x="134.75" y="15.5">FP32</text></g><g id="q4-r12-b"><rect class="cf" x="162.5" width="53" height="20.5"/><text class="t" x="189" y="15.5">FP32</text></g><g id="q4-r12-d"><rect class="cd" x="225" width="112" height="20.5"/><text class="t" x="281" y="15.5">FP64</text></g></g>
<g id="q4-r13" transform="translate(0,572.7)"><g id="q4-r13-i"><rect class="ci" x="47.5" width="52" height="20.5"/><text class="t" x="73.5" y="15.5">INT32</text></g><g id="q4-r13-a"><rect class="cf" x="108.5" width="52.5" height="20.5"/><text class="t" x="134.75" y="15.5">FP32</text></g><g id="q4-r13-b"><rect class="cf" x="162.5" width="53" height="20.5"/><text class="t" x="189" y="15.5">FP32</text></g><g id="q4-r13-d"><rect class="cd" x="225" width="112" height="20.5"/><text class="t" x="281" y="15.5">FP64</text></g></g>
<g id="q4-r14" transform="translate(0,595.3)"><g id="q4-r14-i"><rect class="ci" x="47.5" width="52" height="20.5"/><text class="t" x="73.5" y="15.5">INT32</text></g><g id="q4-r14-a"><rect class="cf" x="108.5" width="52.5" height="20.5"/><text class="t" x="134.75" y="15.5">FP32</text></g><g id="q4-r14-b"><rect class="cf" x="162.5" width="53" height="20.5"/><text class="t" x="189" y="15.5">FP32</text></g><g id="q4-r14-d"><rect class="cd" x="225" width="112" height="20.5"/><text class="t" x="281" y="15.5">FP64</text></g></g>
<g id="q4-r15" transform="translate(0,617.9)"><g id="q4-r15-i"><rect class="ci" x="47.5" width="52" height="20.5"/><text class="t" x="73.5" y="15.5">INT32</text></g><g id="q4-r15-a"><rect class="cf" x="108.5" width="52.5" height="20.5"/><text class="t" x="134.75" y="15.5">FP32</text></g><g id="q4-r15-b"><rect class="cf" x="162.5" width="53" height="20.5"/><text class="t" x="189" y="15.5">FP32</text></g><g id="q4-r15-d"><rect class="cd" x="225" width="112" height="20.5"/><text class="t" x="281" y="15.5">FP64</text></g></g>
<g id="q4-r16" transform="translate(0,640.5)"><g id="q4-r16-i"><rect class="ci" x="47.5" width="52" height="20.5"/><text class="t" x="73.5" y="15.5">INT32</text></g><g id="q4-r16-a"><rect class="cf" x="108.5" width="52.5" height="20.5"/><text class="t" x="134.75" y="15.5">FP32</text></g><g id="q4-r16-b"><rect class="cf" x="162.5" width="53" height="20.5"/><text class="t" x="189" y="15.5">FP32</text></g><g id="q4-r16-d"><rect class="cd" x="225" width="112" height="20.5"/><text class="t" x="281" y="15.5">FP64</text></g></g>
<g id="q4-tensor"><rect class="b tc" x="344.5" y="300" width="191" height="362.5"/><text class="tn" x="440" y="476">TENSOR CORE</text><text class="tn" x="440" y="501">4<tspan class="sup" dy="-9">th</tspan><tspan dy="9"> GENERATION</tspan></text></g>
<g id="q4-ls1"><rect class="b ls" x="45.5" y="668" width="47" height="42.5"/><text class="l" x="69" y="686">LD/</text><text class="l" x="69" y="703">ST</text></g>
<g id="q4-ls2"><rect class="b ls" x="94.35" y="668" width="47" height="42.5"/><text class="l" x="117.85" y="686">LD/</text><text class="l" x="117.85" y="703">ST</text></g>
<g id="q4-ls3"><rect class="b ls" x="143.2" y="668" width="47" height="42.5"/><text class="l" x="166.7" y="686">LD/</text><text class="l" x="166.7" y="703">ST</text></g>
<g id="q4-ls4"><rect class="b ls" x="192.05" y="668" width="47" height="42.5"/><text class="l" x="215.55" y="686">LD/</text><text class="l" x="215.55" y="703">ST</text></g>
<g id="q4-ls5"><rect class="b ls" x="240.9" y="668" width="47" height="42.5"/><text class="l" x="264.4" y="686">LD/</text><text class="l" x="264.4" y="703">ST</text></g>
<g id="q4-ls6"><rect class="b ls" x="289.75" y="668" width="47" height="42.5"/><text class="l" x="313.25" y="686">LD/</text><text class="l" x="313.25" y="703">ST</text></g>
<g id="q4-ls7"><rect class="b ls" x="338.6" y="668" width="47" height="42.5"/><text class="l" x="362.1" y="686">LD/</text><text class="l" x="362.1" y="703">ST</text></g>
<g id="q4-ls8"><rect class="b ls" x="387.45" y="668" width="47" height="42.5"/><text class="l" x="410.95" y="686">LD/</text><text class="l" x="410.95" y="703">ST</text></g>
<g id="q4-sfu"><rect class="b sfu" x="438.5" y="668" width="97" height="42.5"/><path class="sl" d="M487 669V710M439 689.5H535"/><text class="s" x="486.5" y="696">SFU</text></g>
</g>

<g id="tma"><rect class="b tma" x="31.5" y="1347.5" width="1046" height="39"/><text class="big" x="554" y="1375.5">Tensor Memory Accelerator</text></g>
<g id="l1d"><rect class="b cy" x="31.5" y="1396.5" width="1046" height="38"/><text class="big" x="553" y="1424.5">256 KB L1 Data Cache / Shared Memory</text></g>
<g id="tex1"><rect class="b tex" x="31.5" y="1447" width="251" height="41"/><text class="m" x="157" y="1473">Tex</text></g>
<g id="tex2"><rect class="b tex" x="296.5" y="1447" width="251" height="41"/><text class="m" x="422" y="1473">Tex</text></g>
<g id="tex3"><rect class="b tex" x="561.5" y="1447" width="251" height="41"/><text class="m" x="687" y="1473">Tex</text></g>
<g id="tex4"><rect class="b tex" x="826.5" y="1447" width="251" height="41"/><text class="m" x="952" y="1473">Tex</text></g>
</svg>
